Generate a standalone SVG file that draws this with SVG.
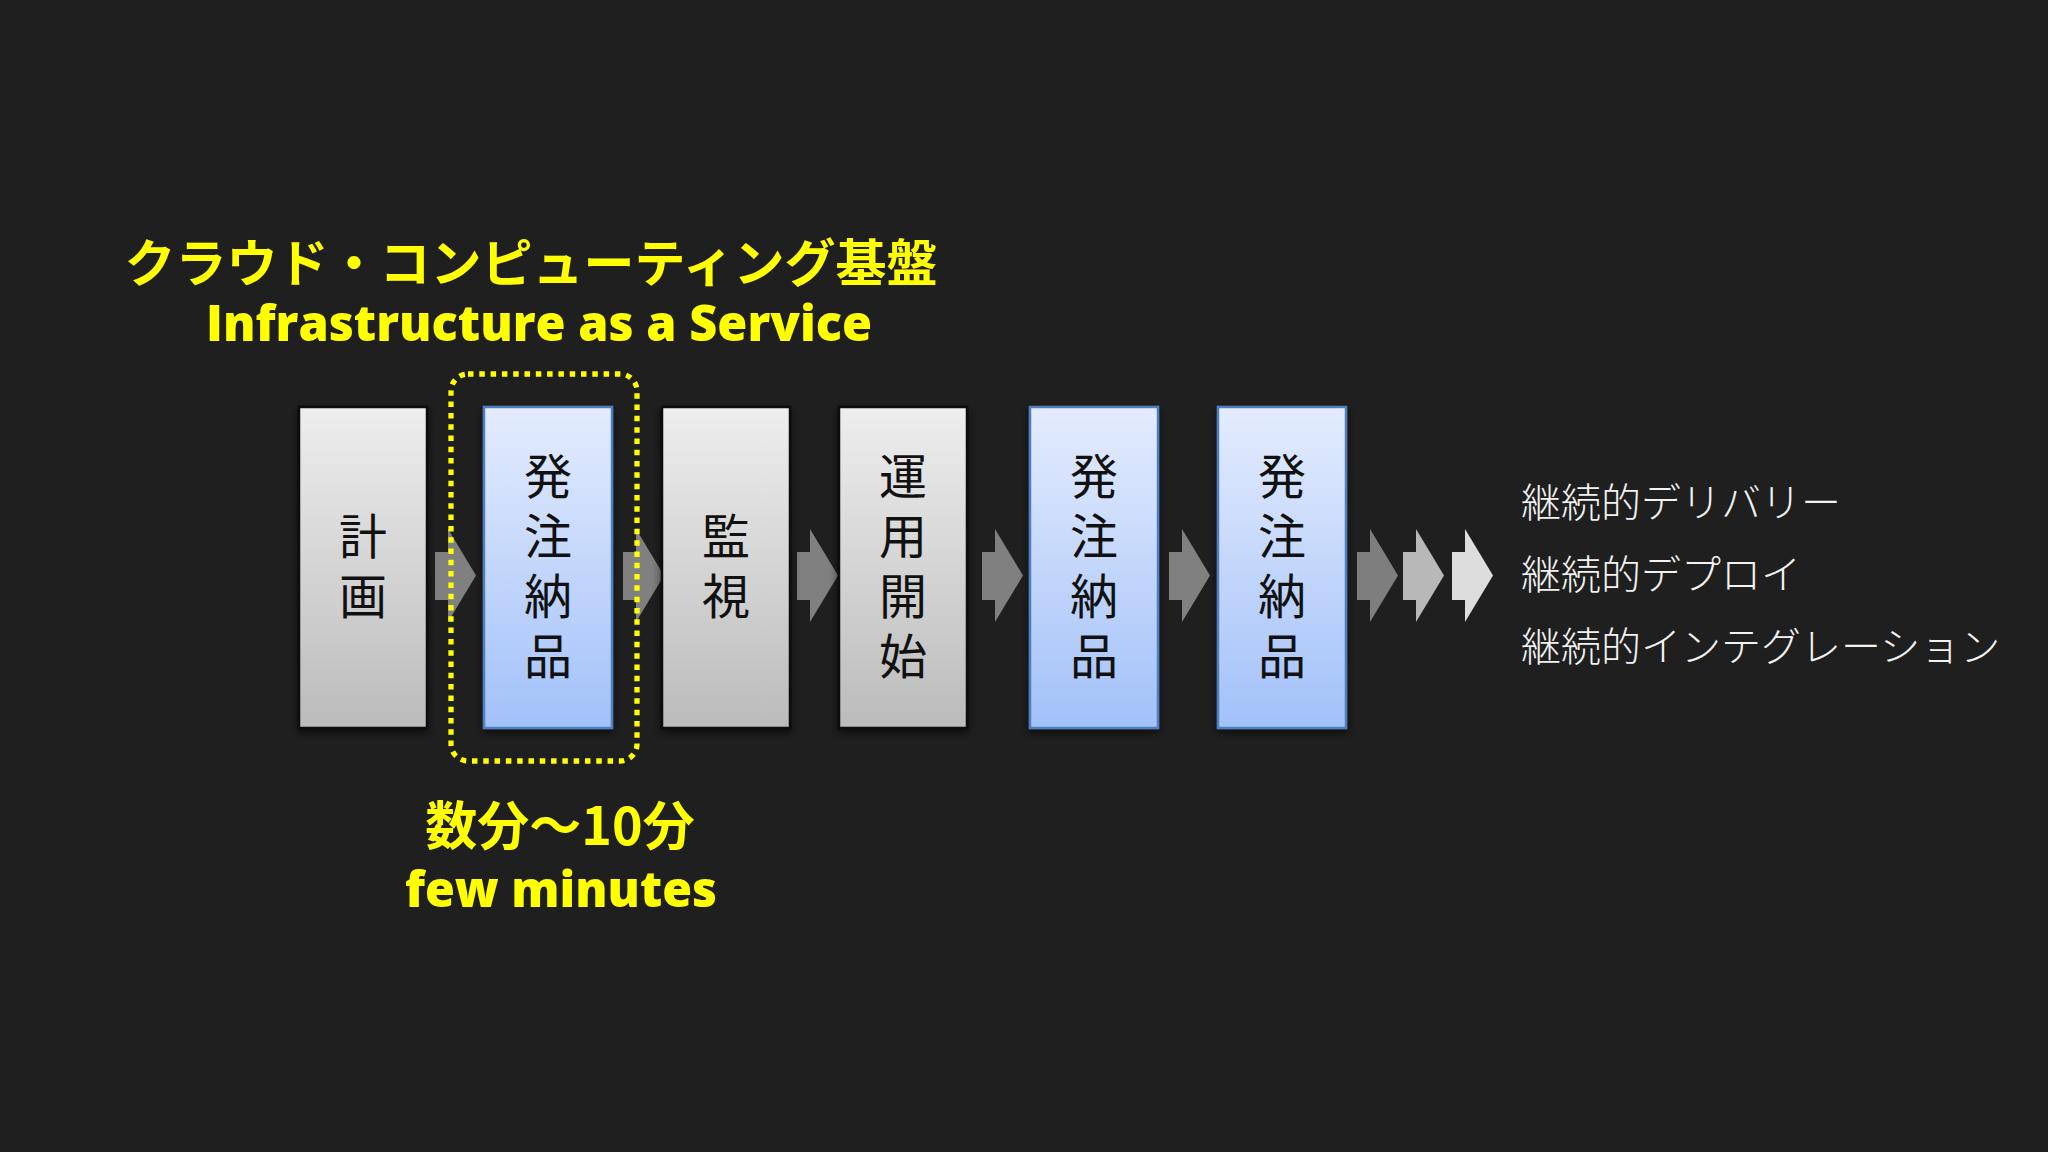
<svg xmlns="http://www.w3.org/2000/svg" width="2048" height="1152" viewBox="0 0 2048 1152">
<defs>
<linearGradient id="gGrey" x1="0" y1="0" x2="0" y2="1">
<stop offset="0" stop-color="#eeeeee"/>
<stop offset="1" stop-color="#bbbbbb"/>
</linearGradient>
<linearGradient id="gBlue" x1="0" y1="0" x2="0" y2="1">
<stop offset="0" stop-color="#e4ecfd"/>
<stop offset="1" stop-color="#a2c1f9"/>
</linearGradient>
<filter id="sh" x="-20%" y="-10%" width="140%" height="125%">
<feDropShadow dx="0" dy="4" stdDeviation="4" flood-color="#000" flood-opacity="0.6"/>
</filter>
<path id="arr" d="M0,552 H13 V529 L41,575.5 L13,622 V600 H0 Z"/>
</defs>
<style>
.grey{fill:url(#gGrey);stroke:#0d0d0d;stroke-width:2.5}
.blue{fill:url(#gBlue);stroke:#4f7fbf;stroke-width:2.5}
.lbl{font-family:"Noto Sans CJK JP","Noto Sans",sans-serif;font-size:48px;fill:#111;text-anchor:middle;writing-mode:vertical-rl;letter-spacing:12px}
.yel{font-family:"Noto Sans CJK JP","Noto Sans",sans-serif;font-weight:bold;fill:#ffff00;text-anchor:middle}
.yen{font-family:"Open Sans","Noto Sans",sans-serif;font-weight:800;fill:#ffff00;text-anchor:middle}
.wht{font-family:"Noto Sans CJK JP","Noto Sans",sans-serif;font-weight:300;font-size:40px;fill:#f2f2f2}
</style>
<rect x="0" y="0" width="2048" height="1152" fill="#1f1f1f"/>

<text class="yel" x="531" y="282" font-size="51">クラウド・コンピューティング基盤</text>
<text class="yen" x="539" y="341" font-size="49" textLength="666" lengthAdjust="spacingAndGlyphs">Infrastructure as a Service</text>

<g id="connectors">
<use href="#arr" x="435" fill="#808080"/>
<use href="#arr" x="623" fill="#808080"/>
<use href="#arr" x="797" fill="#808080"/>
<use href="#arr" x="982" fill="#808080"/>
<use href="#arr" x="1169" fill="#808080"/>
<use href="#arr" x="1357" fill="#7e7e7e"/>
<use href="#arr" x="1403" fill="#b8b8b8"/>
<use href="#arr" x="1452" fill="#dddddd"/>
</g>

<g id="node-keikaku">
<rect class="grey" x="299" y="407" width="128" height="321" filter="url(#sh)"/>
<text class="lbl" x="363" y="572">計画</text>
</g>
<g id="node-hacchu1">
<rect class="blue" x="484" y="407" width="128" height="321" filter="url(#sh)"/>
<text class="lbl" x="548" y="572">発注納品</text>
</g>
<g id="node-kanshi">
<rect class="grey" x="662" y="407" width="128" height="321" filter="url(#sh)"/>
<text class="lbl" x="726" y="572">監視</text>
</g>
<g id="node-unyo">
<rect class="grey" x="839" y="407" width="128" height="321" filter="url(#sh)"/>
<text class="lbl" x="903" y="572">運用開始</text>
</g>
<g id="node-hacchu2">
<rect class="blue" x="1030" y="407" width="128" height="321" filter="url(#sh)"/>
<text class="lbl" x="1094" y="572">発注納品</text>
</g>
<g id="node-hacchu3">
<rect class="blue" x="1218" y="407" width="128" height="321" filter="url(#sh)"/>
<text class="lbl" x="1282" y="572">発注納品</text>
</g>

<g id="highlight">
<rect x="451" y="374" width="186" height="387" rx="17" fill="none" stroke="#ffff00" stroke-width="5.3" stroke-dasharray="5.5 5.8"/>
<text class="yel" x="560" y="845" font-size="52">数分〜10分</text>
<text class="yen" x="561" y="907" font-size="50" textLength="312" lengthAdjust="spacingAndGlyphs">few minutes</text>
</g>

<g id="practices">
<text class="wht" x="1521" y="517">継続的デリバリー</text>
<text class="wht" x="1521" y="589">継続的デプロイ</text>
<text class="wht" x="1521" y="661">継続的インテグレーション</text>
</g>
</svg>
